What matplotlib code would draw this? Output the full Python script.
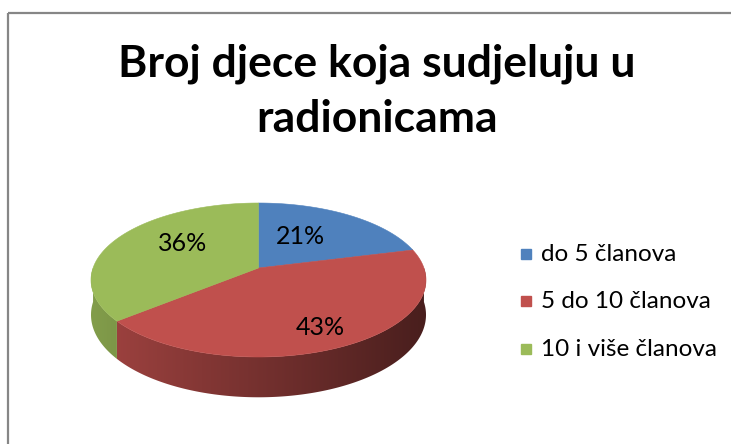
import numpy as np
import matplotlib
matplotlib.use("Agg")
import matplotlib.pyplot as plt
from matplotlib.patches import Rectangle, Polygon

# ---- data ----
categories = ["do 5 članova", "5 do 10 članova", "10 i više članova"]
values = [21, 43, 36]
colors = ["#4F81BD", "#C0504D", "#9BBB59"]
title_text = "Broj djece koja sudjeluju u\nradionicama"

# ---- layout / style ----
W, H = 731, 444
FONT = "Lato"
fig = plt.figure(figsize=(W / 100, H / 100), dpi=100)
ax = fig.add_axes([0, 0, 1, 1])
ax.set_xlim(0, W)
ax.set_ylim(H, 0)
ax.axis("off")

# chart border (extends past right/bottom edge)
ax.add_patch(Rectangle((8, 13), W + 20, H + 20, fill=False,
                       edgecolor="#868686", lw=1.6, zorder=0))

# 3D pie geometry (perspective projection of a tilted disc)
cx, cy, rx, ry, k, D = 258.5, 280.0, 167.5, 77.0, 0.156, 34.0
sx = rx * np.sqrt(1 - k * k)
sy = ry * (1 - k * k)
off = k / (1 - k * k)


def proj(theta, r=1.0):
    t = np.radians(theta)
    u = r * np.sin(t)
    w = r * np.cos(t)
    den = 1 + k * w
    return cx + sx * u / den, cy - sy * (w / den + off), D / den


def shade_row(hexcol, n=300):
    rgb = np.array(matplotlib.colors.to_rgb(hexcol))
    t = np.linspace(0, 1, n)
    f = 0.84 - 0.46 * t
    return np.clip(f[:, None] * rgb[None, :], 0, 1)[None, :, :]


fr = np.array(values, float) / np.sum(values)
ends = 360 * np.cumsum(fr)
starts = np.concatenate([[0], ends[:-1]])

# side walls (front half only) with horizontal gradient
for i in range(len(values)):
    a = max(starts[i], 90.0)
    b = min(ends[i], 270.0)
    if b <= a:
        continue
    ts = np.linspace(a, b, 200)
    X, Y, d = proj(ts)
    px = np.concatenate([X, X[::-1]])
    py = np.concatenate([Y, (Y + d)[::-1]])
    poly = Polygon(np.column_stack([px, py]), closed=True,
                   facecolor="none", edgecolor="none")
    ax.add_patch(poly)
    im = ax.imshow(shade_row(colors[i]), aspect="auto",
                   extent=[cx - rx, cx + rx, cy + ry + 60, cy - ry],
                   interpolation="bilinear", zorder=2)
    im.set_clip_path(poly)
ax.set_xlim(0, W)
ax.set_ylim(H, 0)

# top face
ax0, ay0, _ = proj(0.0, 0.0)
for i in range(len(values)):
    ts = np.linspace(starts[i], ends[i], 200)
    X, Y, _ = proj(ts)
    ax.fill(np.concatenate([[ax0], X]), np.concatenate([[ay0], Y]),
            color=colors[i], ec=colors[i], lw=0.4, zorder=3)

# percent labels
label_r = [0.5, 0.8, 0.55]
label_dx = [-6, -6, 4]
label_dy = [-4, -1, -8]
for i, v in enumerate(values):
    mid = 0.5 * (starts[i] + ends[i])
    X, Y, _ = proj(mid, label_r[i])
    ax.text(X + label_dx[i], Y + label_dy[i], f"{v}%", ha="center",
            va="center", fontsize=18, family=FONT, color="black", zorder=5)

# title
lines = title_text.split("\n")
for j, ln in enumerate(lines):
    ax.text(377, 76 + 56 * j, ln, ha="center", va="baseline",
            fontsize=32, fontweight="bold", family=FONT, color="black")

# legend
leg_y = [254, 301, 349]
for i, cat in enumerate(categories):
    ax.add_patch(Rectangle((521, leg_y[i] - 5), 10, 10, color=colors[i]))
    ax.text(541, leg_y[i], cat, ha="left", va="center", fontsize=17.5,
            family=FONT, color="black")

fig.savefig("out.png", dpi=100)
